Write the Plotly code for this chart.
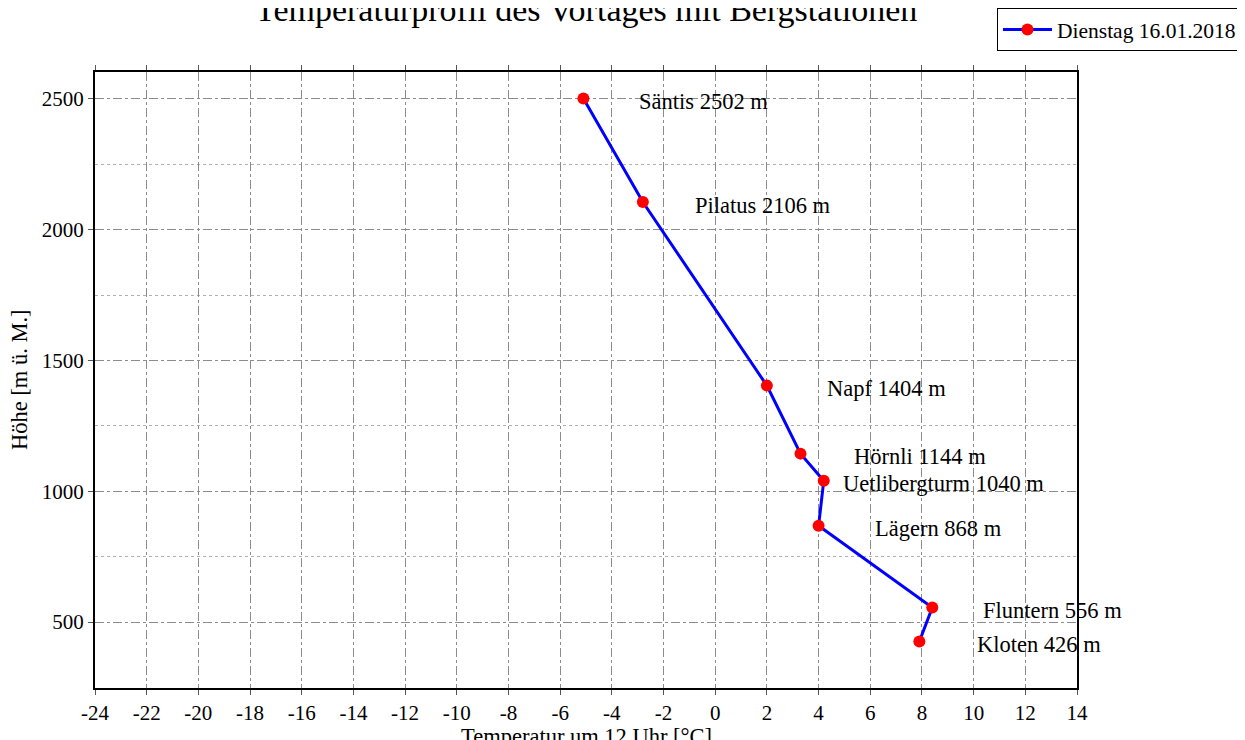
import plotly.graph_objects as go

stations = ["Säntis", "Pilatus", "Napf", "Hörnli", "Uetlibergturm", "Lägern", "Fluntern", "Kloten"]
heights = [2502, 2106, 1404, 1144, 1040, 868, 556, 426]
temps = [-5.1, -2.8, 2.0, 3.3, 4.2, 4.0, 8.4, 7.9]
x_ticks = list(range(-24, 15, 2))
y_ticks = [500, 1000, 1500, 2000, 2500]

FONT = "Liberation Serif"

fig = go.Figure()
fig.add_trace(go.Scatter(
    x=temps, y=heights, mode="lines+markers", name="Dienstag 16.01.2018",
    line=dict(color="#0000ff", width=3),
    marker=dict(color="#ff0000", size=12),
))

for s, h, t in zip(stations, heights, temps):
    fig.add_annotation(x=t, y=h, text=f"{s} {h} m", showarrow=False,
                       xanchor="center", yanchor="middle", xshift=120, yshift=-3,
                       font=dict(family=FONT, size=22.5, color="black"))

# title and axis titles as annotations for exact placement
fig.add_annotation(xref="paper", yref="paper", x=0.5, y=1, xanchor="center",
                   yanchor="middle", yshift=63, showarrow=False,
                   text="Temperaturprofil des Vortages mit Bergstationen",
                   font=dict(family=FONT, size=34, color="black"))
fig.add_annotation(xref="paper", yref="paper", x=0.5, y=0, xanchor="center",
                   yanchor="middle", yshift=-48, showarrow=False,
                   text="Temperatur um 12 Uhr [°C]",
                   font=dict(family=FONT, size=22.5, color="black"))
fig.add_annotation(xref="paper", yref="paper", x=0, y=0.5, xanchor="center",
                   yanchor="middle", xshift=-76, showarrow=False, textangle=-90,
                   text="Höhe [m ü. M.]",
                   font=dict(family=FONT, size=22.5, color="black"))

grid = dict(showgrid=True, gridcolor="#8c8c8c", griddash="dashdot", gridwidth=1)
fig.update_xaxes(range=[-24, 14], tickvals=x_ticks, ticktext=[str(v) for v in x_ticks],
                 ticks="outside", ticklen=5,
                 tickcolor="#555", showline=True, linecolor="black", linewidth=2,
                 mirror="allticks", zeroline=False, automargin=False,
                 tickfont=dict(family=FONT, size=21), **grid)
fig.update_yaxes(range=[248, 2603], tickvals=y_ticks, ticktext=[str(v) for v in y_ticks],
                 ticks="outside", ticklen=5,
                 tickcolor="#555", showline=True, linecolor="black", linewidth=2,
                 mirror=True, zeroline=False, automargin=False,
                 minor=dict(dtick=250, tick0=250, showgrid=True, gridcolor="#b0b0b0",
                            griddash="dot", gridwidth=1),
                 tickfont=dict(family=FONT, size=21), **grid)

fig.update_layout(
    width=1237, height=732,
    margin=dict(l=87, r=168, t=64, b=52, autoexpand=False),
    paper_bgcolor="white", plot_bgcolor="white",
    font=dict(family=FONT, color="black"),
    showlegend=True,
    legend=dict(x=0.9185, y=1.1039, xanchor="left", yanchor="top",
                bordercolor="black", borderwidth=1, bgcolor="white",
                itemwidth=49,
                font=dict(family=FONT, size=21.5)),
)

fig.write_html("out.html")
